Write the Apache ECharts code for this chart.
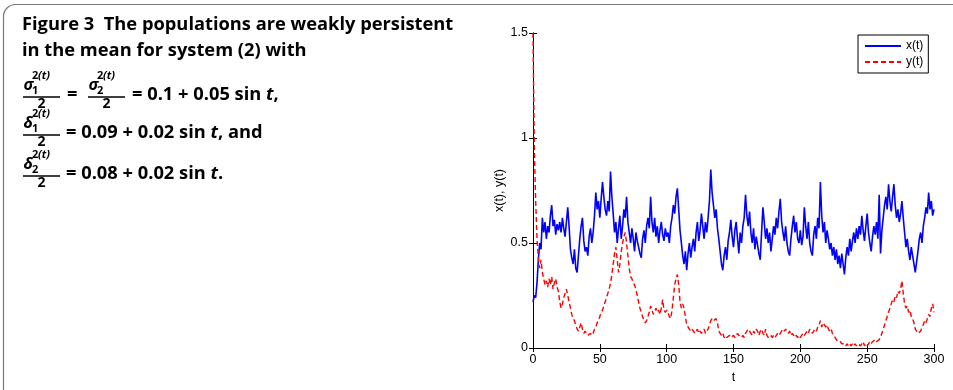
<!DOCTYPE html>
<html>
<head>
<meta charset="utf-8">
<script src="https://cdn.jsdelivr.net/npm/echarts@6/dist/echarts.min.js"></script>
<style>
  html, body { margin: 0; padding: 0; background: #fff; }
  #main { width: 953px; height: 390px; }
</style>
</head>
<body>
<div id="main"></div>
<script>
// time axis: one sample per unit of t, from 0 to 300
var tStart = 0;
var tStep = 1;
var xTicks = [0, 50, 100, 150, 200, 250, 300];
var yTicks = [0, 0.5, 1, 1.5];

// x(t)
var xVals = [
  0.22, 0.25, 0.24, 0.31, 0.42, 0.50, 0.47, 0.62, 0.55, 0.60,
  0.52, 0.58, 0.55, 0.63, 0.68, 0.58, 0.61, 0.54, 0.59, 0.56,
  0.60, 0.55, 0.62, 0.57, 0.53, 0.60, 0.67, 0.58, 0.47, 0.43,
  0.40, 0.47, 0.38, 0.36, 0.44, 0.52, 0.58, 0.62, 0.51, 0.46,
  0.48, 0.44, 0.53, 0.57, 0.50, 0.55, 0.63, 0.74, 0.66, 0.70,
  0.62, 0.71, 0.79, 0.72, 0.66, 0.63, 0.70, 0.65, 0.84, 0.72,
  0.64, 0.55, 0.60, 0.50, 0.57, 0.63, 0.52, 0.58, 0.66, 0.62,
  0.72, 0.60, 0.55, 0.50, 0.57, 0.52, 0.46, 0.55, 0.51, 0.48,
  0.45, 0.43, 0.52, 0.56, 0.50, 0.58, 0.62, 0.57, 0.72, 0.60,
  0.55, 0.62, 0.53, 0.58, 0.50, 0.56, 0.60, 0.54, 0.51, 0.57,
  0.53, 0.55, 0.50, 0.58, 0.62, 0.68, 0.64, 0.72, 0.76, 0.66,
  0.56, 0.50, 0.44, 0.40, 0.46, 0.37, 0.45, 0.50, 0.43, 0.48,
  0.52, 0.46, 0.55, 0.60, 0.51, 0.56, 0.64, 0.58, 0.52, 0.60,
  0.55, 0.62, 0.70, 0.85, 0.74, 0.68, 0.62, 0.66, 0.57, 0.52,
  0.46, 0.40, 0.37, 0.44, 0.48, 0.42, 0.51, 0.55, 0.61, 0.53,
  0.48, 0.56, 0.60, 0.52, 0.45, 0.55, 0.50, 0.58, 0.62, 0.73,
  0.63, 0.58, 0.65, 0.55, 0.50, 0.57, 0.47, 0.53, 0.49, 0.45,
  0.42, 0.55, 0.67, 0.60, 0.52, 0.57, 0.50, 0.55, 0.46, 0.52,
  0.58, 0.54, 0.62, 0.57, 0.65, 0.71, 0.60, 0.55, 0.51, 0.58,
  0.50, 0.46, 0.44, 0.52, 0.58, 0.63, 0.55, 0.60, 0.52, 0.50,
  0.56, 0.49, 0.53, 0.67, 0.58, 0.52, 0.60, 0.50, 0.46, 0.44,
  0.54, 0.58, 0.52, 0.62, 0.57, 0.79, 0.63, 0.55, 0.60, 0.50,
  0.56, 0.52, 0.47, 0.50, 0.44, 0.48, 0.42, 0.47, 0.40, 0.44,
  0.38, 0.45, 0.40, 0.35, 0.43, 0.48, 0.44, 0.52, 0.46, 0.51,
  0.55, 0.50, 0.57, 0.52, 0.58, 0.54, 0.63, 0.56, 0.51, 0.58,
  0.64, 0.55, 0.50, 0.46, 0.53, 0.58, 0.54, 0.60, 0.52, 0.73,
  0.45, 0.56, 0.62, 0.68, 0.72, 0.66, 0.78, 0.70, 0.65, 0.72,
  0.78, 0.68, 0.62, 0.66, 0.60, 0.64, 0.70, 0.62, 0.55, 0.48,
  0.52, 0.46, 0.42, 0.48, 0.44, 0.40, 0.36, 0.41, 0.46, 0.52,
  0.55, 0.50, 0.58, 0.62, 0.67, 0.64, 0.74, 0.66, 0.70, 0.63,
  0.66
];

// y(t)
var yVals = [
  1.50, 0.95, 0.70, 0.52, 0.43, 0.38, 0.42, 0.36, 0.33, 0.30,
  0.32, 0.29, 0.33, 0.30, 0.34, 0.28, 0.31, 0.33, 0.29, 0.27,
  0.22, 0.19, 0.21, 0.24, 0.26, 0.28, 0.25, 0.22, 0.19, 0.16,
  0.14, 0.13, 0.11, 0.09, 0.08, 0.10, 0.12, 0.09, 0.07, 0.08,
  0.07, 0.06, 0.06, 0.07, 0.06, 0.07, 0.09, 0.10, 0.12, 0.13,
  0.15, 0.17, 0.18, 0.20, 0.22, 0.24, 0.26, 0.28, 0.31, 0.35,
  0.40, 0.45, 0.48, 0.42, 0.36, 0.40, 0.46, 0.50, 0.53, 0.55,
  0.50, 0.44, 0.38, 0.34, 0.33, 0.31, 0.30, 0.28, 0.25, 0.22,
  0.19, 0.17, 0.15, 0.13, 0.12, 0.13, 0.15, 0.17, 0.20, 0.18,
  0.16, 0.17, 0.19, 0.17, 0.18, 0.16, 0.19, 0.23, 0.18, 0.17,
  0.18, 0.17, 0.15, 0.14, 0.18, 0.24, 0.30, 0.33, 0.35, 0.30,
  0.22, 0.19, 0.21, 0.19, 0.15, 0.11, 0.10, 0.09, 0.08, 0.09,
  0.08, 0.07, 0.08, 0.09, 0.07, 0.08, 0.07, 0.08, 0.09, 0.07,
  0.08, 0.09, 0.11, 0.13, 0.14, 0.13, 0.13, 0.14, 0.12, 0.08,
  0.07, 0.06, 0.07, 0.05, 0.06, 0.05, 0.05, 0.06, 0.05, 0.05,
  0.06, 0.05, 0.06, 0.07, 0.06, 0.06, 0.05, 0.06, 0.05, 0.07,
  0.08, 0.09, 0.08, 0.07, 0.06, 0.08, 0.07, 0.09, 0.08, 0.06,
  0.08, 0.09, 0.07, 0.06, 0.09, 0.06, 0.05, 0.05, 0.06, 0.05,
  0.06, 0.05, 0.06, 0.07, 0.06, 0.07, 0.08, 0.09, 0.08, 0.09,
  0.08, 0.07, 0.08, 0.06, 0.07, 0.06, 0.05, 0.06, 0.05, 0.06,
  0.05, 0.06, 0.07, 0.06, 0.07, 0.08, 0.07, 0.09, 0.08, 0.07,
  0.08, 0.09, 0.08, 0.10, 0.11, 0.13, 0.10, 0.12, 0.11, 0.10,
  0.11, 0.09, 0.08, 0.09, 0.07, 0.06, 0.05, 0.04, 0.03, 0.03,
  0.03, 0.02, 0.02, 0.02, 0.01, 0.02, 0.01, 0.02, 0.01, 0.02,
  0.01, 0.02, 0.01, 0.02, 0.02, 0.01, 0.02, 0.03, 0.01, 0.02,
  0.01, 0.02, 0.03, 0.02, 0.03, 0.03, 0.04, 0.03, 0.03, 0.04,
  0.05, 0.07, 0.09, 0.11, 0.13, 0.15, 0.17, 0.19, 0.21, 0.23,
  0.22, 0.25, 0.24, 0.27, 0.26, 0.28, 0.32, 0.26, 0.21, 0.19,
  0.20, 0.17, 0.18, 0.15, 0.14, 0.12, 0.09, 0.08, 0.07, 0.07,
  0.08, 0.10, 0.11, 0.13, 0.12, 0.14, 0.16, 0.15, 0.19, 0.21,
  0.17
];

var seriesNames = ['x(t)', 'y(t)'];

function toPairs(vals) {
  return vals.map(function (v, i) { return [tStart + i * tStep, v]; });
}

var capFont = '"Open Sans", "Noto Sans", sans-serif';
var capSize = '18.3px ';

function frac(x, yb, g, sub) {
  return [
    { type: 'text', x: x + 0.5, y: yb - 12, style: { text: g, font: 'italic bold 16px ' + capFont, fill: '#000', verticalAlign: 'middle' } },
    { type: 'text', x: x + 9, y: yb - 21, style: { text: '2', font: 'bold 11px ' + capFont, fill: '#000', verticalAlign: 'middle' } },
    { type: 'text', x: x + 9, y: yb - 6, style: { text: sub, font: 'bold 11px ' + capFont, fill: '#000', verticalAlign: 'middle' } },
    { type: 'text', x: x + 15, y: yb - 21, style: { text: '(t)', font: 'italic bold 11px ' + capFont, fill: '#000', verticalAlign: 'middle' } },
    { type: 'line', shape: { x1: x, y1: yb, x2: x + 37, y2: yb }, style: { stroke: '#000', lineWidth: 1.4 } },
    { type: 'text', x: x + 18.5, y: yb + 7, style: { text: '2', font: 'bold 14px ' + capFont, fill: '#000', align: 'center', verticalAlign: 'middle' } }
  ];
}

function eqText(x, y, before, after) {
  return {
    type: 'text', x: x, y: y,
    style: {
      text: '{n|' + before + '}{i|t}{n|' + after + '}',
      verticalAlign: 'middle',
      rich: {
        n: { font: 'bold ' + capSize + capFont, fill: '#000' },
        i: { font: 'italic bold ' + capSize + capFont, fill: '#000' }
      }
    }
  };
}

var capEls = [
  { type: 'rect', shape: { x: 3.5, y: 4.5, width: 1000, height: 420, r: 12 }, style: { fill: 'none', stroke: '#777', lineWidth: 1.2 }, z: -1 },
  { type: 'text', x: 22, y: 25, style: { text: 'Figure 3  The populations are weakly persistent', font: 'bold ' + capSize + capFont, fill: '#000', verticalAlign: 'middle' } },
  { type: 'text', x: 22, y: 51, style: { text: 'in the mean for system (2) with', font: 'bold ' + capSize + capFont, fill: '#000', verticalAlign: 'middle' } },
  { type: 'text', x: 67, y: 95, style: { text: '=', font: 'bold ' + capSize + capFont, fill: '#000', verticalAlign: 'middle' } },
  eqText(132, 95, '= 0.1 + 0.05 sin ', ','),
  eqText(66, 133, '= 0.09 + 0.02 sin ', ', and'),
  eqText(66, 174, '= 0.08 + 0.02 sin ', '.')
].concat(frac(23, 97, 'σ', '1'), frac(88, 97, 'σ', '2'), frac(23, 135, 'δ', '1'), frac(23, 176, 'δ', '2'));

var chart = echarts.init(document.getElementById('main'));

var axisFont = { color: '#000', fontSize: 12.5, fontFamily: '"Liberation Sans", Arial, sans-serif' };

chart.setOption({
  animation: false,
  grid: { left: 533, right: 19, top: 33, bottom: 42 },
  legend: {
    left: 858, top: 35,
    orient: 'vertical',
    data: seriesNames,
    itemWidth: 36, itemHeight: 14, itemGap: 4,
    padding: [5, 5, 5, 6],
    borderColor: '#000', borderWidth: 1,
    borderRadius: 0,
    backgroundColor: '#fff',
    itemStyle: { opacity: 0 },
    textStyle: { color: '#000', fontSize: 12, fontFamily: '"Liberation Sans", Arial, sans-serif' }
  },
  xAxis: [{
    type: 'value', min: xTicks[0], max: xTicks[xTicks.length - 1], interval: 50,
    name: 't', nameLocation: 'middle', nameGap: 21, nameTextStyle: axisFont,
    axisLine: { lineStyle: { color: '#000', width: 1 } },
    axisTick: { inside: true, length: 4, lineStyle: { color: '#000' } },
    axisLabel: Object.assign({ margin: 5 }, axisFont),
    splitLine: { show: false }
  }, {
    type: 'value', position: 'top', min: xTicks[0], max: xTicks[xTicks.length - 1], interval: 50,
    axisLine: { lineStyle: { color: '#000', width: 1 } },
    axisTick: { inside: true, length: 4, lineStyle: { color: '#000' } },
    axisLabel: { show: false },
    splitLine: { show: false }
  }],
  yAxis: [{
    type: 'value', min: yTicks[0], max: yTicks[yTicks.length - 1], interval: 0.5,
    name: 'x(t), y(t)', nameLocation: 'middle', nameGap: 27, nameRotate: 90, nameTextStyle: axisFont,
    axisLine: { show: true, lineStyle: { color: '#000', width: 1 } },
    axisTick: { show: true, inside: true, length: 4, lineStyle: { color: '#000' } },
    axisLabel: Object.assign({ margin: 5 }, axisFont),
    splitLine: { show: false }
  }, {
    type: 'value', position: 'right', min: yTicks[0], max: yTicks[yTicks.length - 1], interval: 0.5,
    axisLine: { show: true, lineStyle: { color: '#000', width: 1 } },
    axisTick: { show: true, inside: true, length: 4, lineStyle: { color: '#000' } },
    axisLabel: { show: false },
    splitLine: { show: false }
  }],
  series: [
    {
      name: seriesNames[0], type: 'line', showSymbol: false, symbol: 'none',
      color: '#0000ff',
      lineStyle: { color: '#0000ff', width: 1.6 },
      data: toPairs(xVals), z: 3
    },
    {
      name: seriesNames[1], type: 'line', showSymbol: false, symbol: 'none',
      color: '#ff0000',
      lineStyle: { color: '#ff0000', width: 1.4, type: [5, 3] },
      data: toPairs(yVals), z: 4
    }
  ],
  graphic: capEls
});
</script>
</body>
</html>
